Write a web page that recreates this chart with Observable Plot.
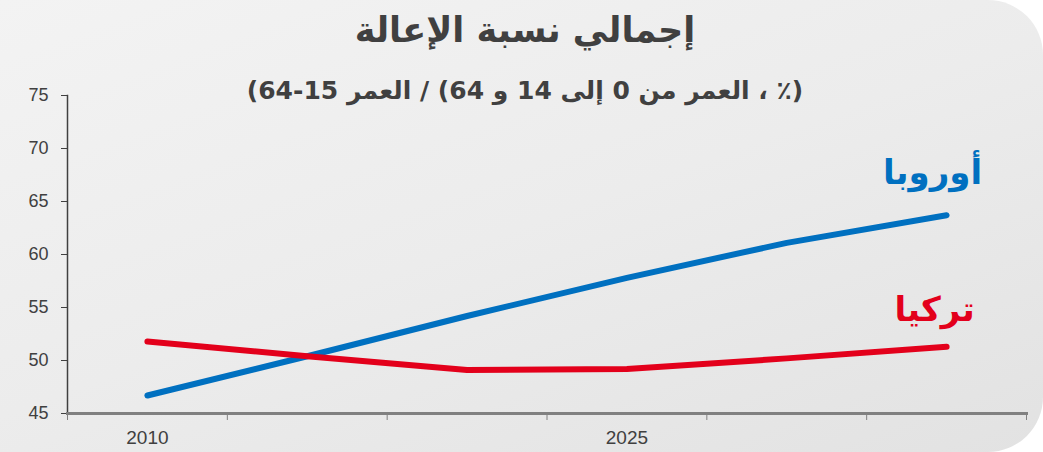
<!DOCTYPE html>
<html><head><meta charset="utf-8">
<script src="https://cdn.jsdelivr.net/npm/d3@7"></script>
<script src="https://cdn.jsdelivr.net/npm/@observablehq/plot@0.6"></script>
<style>
html,body{margin:0;padding:0;}
#wrap{position:relative;width:1043px;height:452px;overflow:hidden;
 background:linear-gradient(160deg,#f3f3f3 0%,#ececec 50%,#e2e2e2 100%);
 border-radius:0 55px 55px 0;}
.t{position:absolute;left:0;width:1050px;text-align:center;direction:rtl;font-family:"DejaVu Sans",sans-serif;font-weight:bold;color:#404040;}
#title{top:10px;font-size:35px;}
#sub{top:76px;font-size:25px;}
#chart{position:absolute;left:0;top:0;}
</style></head>
<body><div id="wrap">
<div id="chart"></div>
<div class="t" id="title">إجمالي نسبة الإعالة</div>
<div class="t" id="sub">(٪ ، العمر من 0 إلى 14 و 64) / العمر 15-64)</div>
</div>
<script>
const years = [2010, 2015, 2020, 2025, 2030, 2035];
const europe = [46.7, 50.4, 54.2, 57.8, 61.1, 63.7];
const turkey = [51.8, 50.4, 49.1, 49.2, 50.2, 51.3];
const seriesNames = ["أوروبا", "تركيا"];
const seriesColors = ["#0070C0", "#E3001B"];
const yTicks = [45, 50, 55, 60, 65, 70, 75];
const xLabels = [2010, 2025];

const rows = [];
[europe, turkey].forEach((vals, i) => vals.forEach((v, j) => rows.push({year: years[j], value: v, series: seriesNames[i]})));
const step = years[1] - years[0];
const bounds = years.map(y => y - step / 2).concat([years[years.length - 1] + step / 2]);
const lastPts = seriesNames.map((s, i) => ({series: s, year: years[years.length - 1], value: [europe, turkey][i][years.length - 1]}));

const chart = Plot.plot({
  width: 1043, height: 452,
  marginLeft: 67, marginRight: 17, marginTop: 95, marginBottom: 39,
  style: {background: "transparent", fontFamily: "Liberation Sans, Arial, sans-serif", color: "#404040"},
  x: {type: "linear", domain: [bounds[0], bounds[bounds.length - 1]]},
  y: {domain: [45, 75]},
  color: {domain: seriesNames, range: seriesColors},
  marks: [
    Plot.axisY({ticks: yTicks, tickSize: 6, tickPadding: 13, fontSize: 18, label: null, stroke: "#404040"}),
    Plot.axisX({ticks: bounds, tickSize: 7, tickFormat: () => "", label: null, stroke: "#808080"}),
    Plot.axisX({ticks: xLabels, tickSize: 0, tickPadding: 17, fontSize: 19, tickFormat: d => String(d), label: null}),
    Plot.frame({anchor: "left", stroke: "#404040", strokeWidth: 1.5}),
    Plot.frame({anchor: "bottom", stroke: "#808080", strokeWidth: 3}),
    Plot.line(rows, {x: "year", y: "value", z: "series", stroke: "series", strokeWidth: 6, strokeLinecap: "round", strokeLinejoin: "round"}),
    Plot.text(lastPts.slice(0, 1), {x: "year", y: "value", text: "series", fill: "series", dx: -14, dy: -42, fontSize: 34, fontWeight: "bold", fontFamily: "DejaVu Sans, sans-serif"}),
    Plot.text(lastPts.slice(1), {x: "year", y: "value", text: "series", fill: "series", dx: -12, dy: -37, fontSize: 34, fontWeight: "bold", fontFamily: "DejaVu Sans, sans-serif"})
  ]
});
document.getElementById("chart").appendChild(chart);
</script>
</body></html>
